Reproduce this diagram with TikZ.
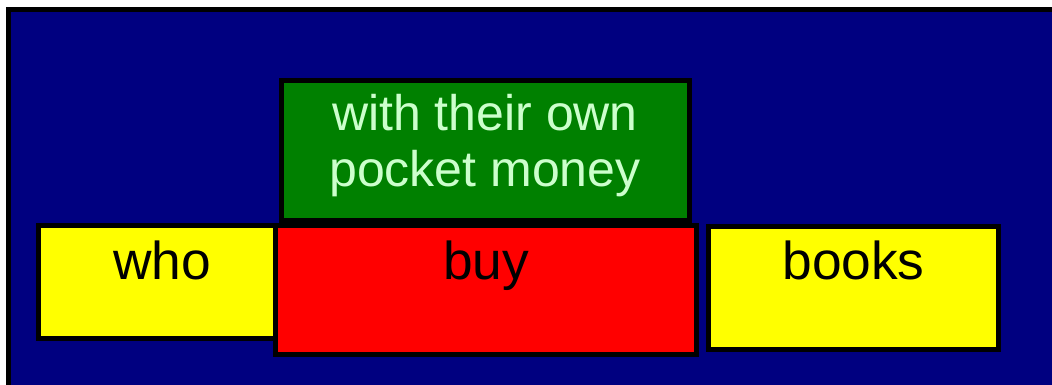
\documentclass[tikz,border=0pt]{standalone}
\usepackage{fontspec}
\newfontfamily\arialsans{Liberation Sans}
\definecolor{bgnavy}{HTML}{000080}
\definecolor{boxgreen}{HTML}{008000}
\definecolor{boxred}{HTML}{FF0000}
\definecolor{boxyellow}{HTML}{FFFF00}
\definecolor{txtgreen}{HTML}{CCFFCC}
\begin{document}
\begin{tikzpicture}[x=0.75pt,y=-0.75pt,
  frame/.style={draw=black,line width=3.75pt},
  lbl/.style={inner sep=0pt,anchor=base,font=\arialsans\fontsize{40pt}{46pt}\selectfont},
  glbl/.style={inner sep=0pt,anchor=base,text=txtgreen,font=\arialsans\fontsize{37.5pt}{43pt}\selectfont}]
\useasboundingbox (0,0) rectangle (1052,385);
\clip (0,0) rectangle (1052,385);
\fill[white] (0,0) rectangle (1052,385);
\draw[frame,fill=bgnavy] (8.5,9.5) rectangle (1070,400);
% boxes
\draw[frame,fill=boxyellow] (38.5,225.5) rectangle (275.5,338.5);
\draw[frame,fill=boxgreen] (281.5,80.5) rectangle (689.5,220.5);
\draw[frame,fill=boxred] (275.5,225.5) rectangle (696.5,354.5);
\draw[frame,fill=boxyellow] (708.5,226.5) rectangle (998.5,349.5);
% labels
\node[lbl,text=black] (who) at (162,279) {who};
\node[lbl,text=black] (buy) at (486,279) {buy};
\node[lbl,text=black] (books) at (853.5,279) {books};
\node[glbl] (with) at (485,130) {with their own};
\node[glbl] (pocket) at (485,186) {pocket money};
\end{tikzpicture}
\end{document}
